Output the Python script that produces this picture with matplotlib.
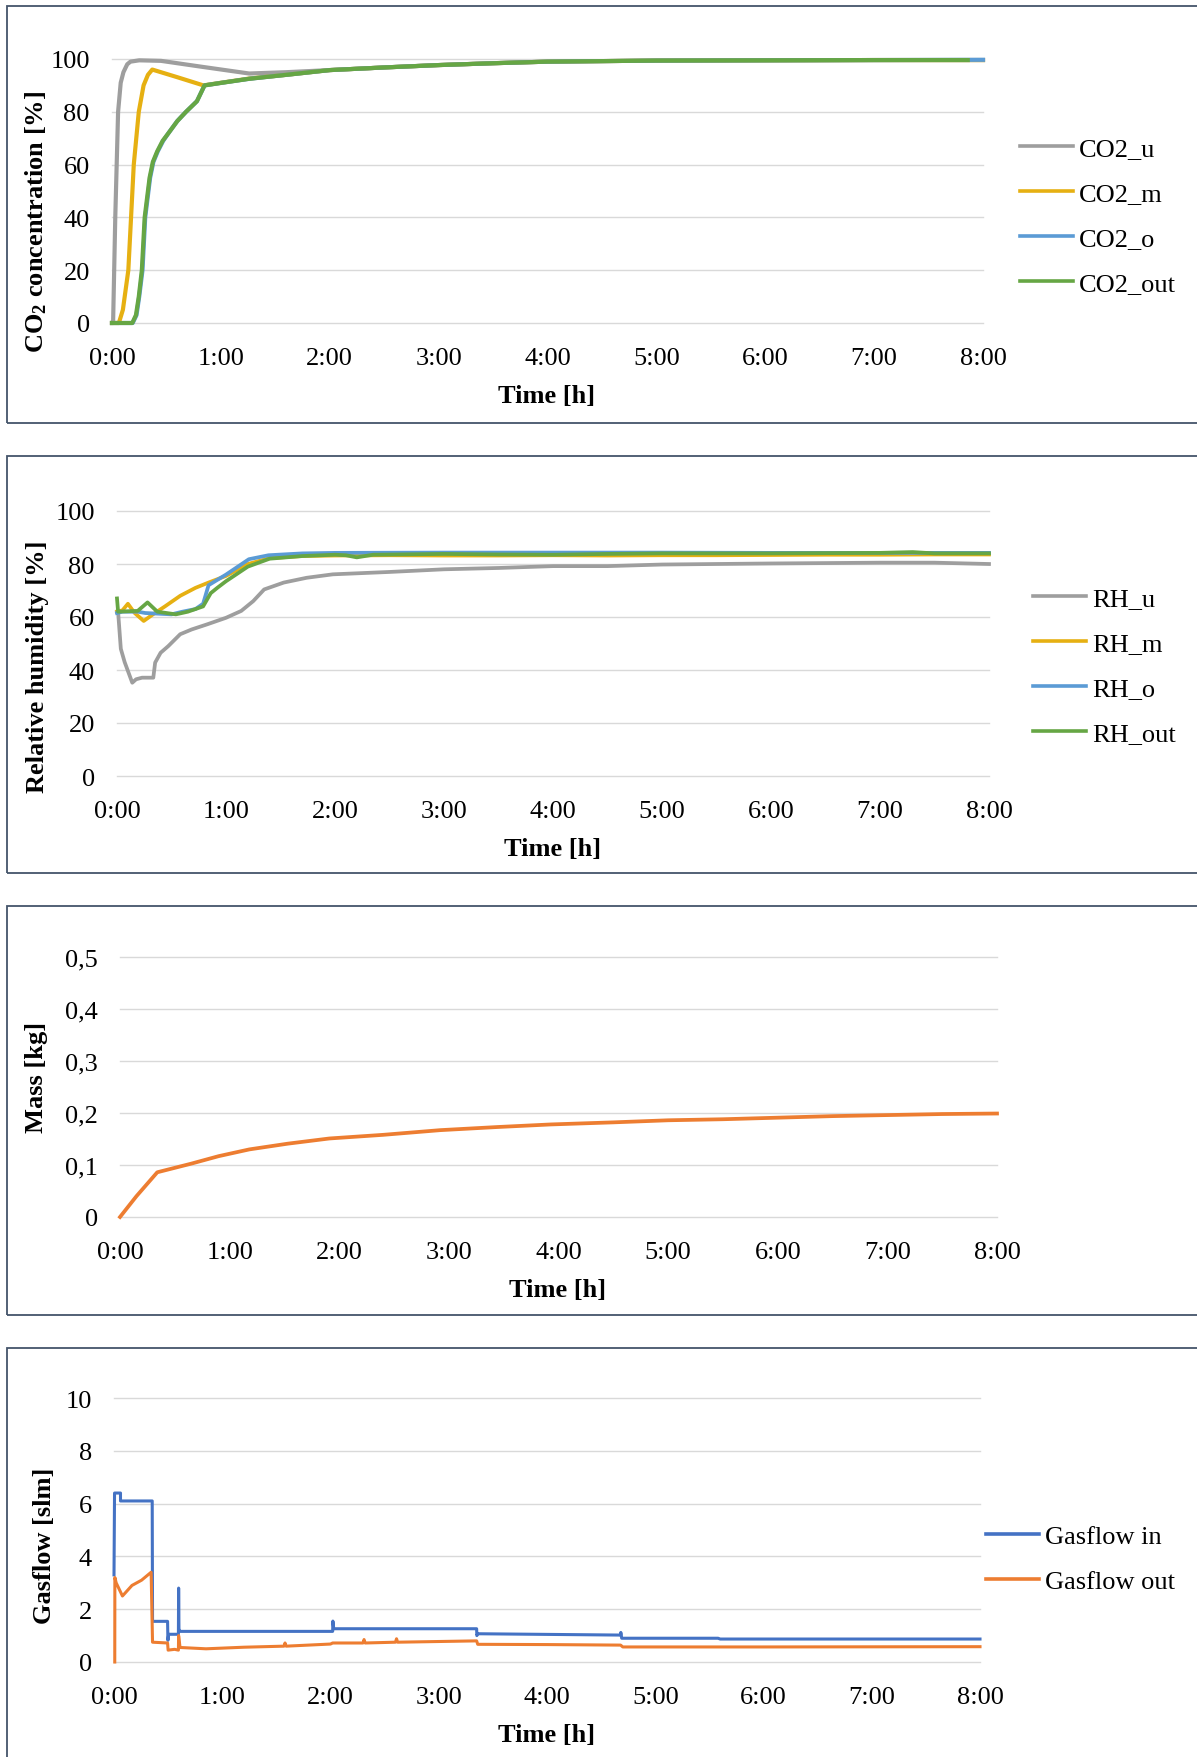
import matplotlib
matplotlib.use("Agg")
import matplotlib.pyplot as plt
from matplotlib.patches import Rectangle
from matplotlib.lines import Line2D

plt.rcParams['font.family'] = ['Liberation Serif', 'DejaVu Serif']
plt.rcParams['mathtext.default'] = 'regular'

W, H = 1197, 1758

# ---- data (time in hours) ----
hour_ticks = [0, 1, 2, 3, 4, 5, 6, 7, 8]
hour_labels = ['0:00', '1:00', '2:00', '3:00', '4:00', '5:00', '6:00', '7:00', '8:00']

t_co2_u = [0, 0.01, 0.03, 0.056, 0.08, 0.105, 0.14, 0.17, 0.25, 0.45, 0.8, 1.26, 1.6, 2.0, 2.5, 3.0, 3.5, 4.0, 4.5, 5.0, 6.0, 7.0, 8.0]
co2_u = [0, 0, 40, 80, 91, 95, 98, 99, 99.5, 99.3, 97.2, 94.5, 95.0, 95.8, 96.8, 97.7, 98.4, 99.0, 99.2, 99.4, 99.5, 99.6, 99.6]
t_co2_m = [0, 0.063, 0.1, 0.15, 0.2, 0.246, 0.29, 0.33, 0.37, 0.6, 0.84, 1.0, 1.26, 1.6, 2.0, 2.5, 3.0, 3.5, 4.0, 4.5, 5.0, 6.0, 7.0, 8.0]
co2_m = [0, 0, 5, 20, 60, 80, 90, 94, 96, 93.1, 90, 91, 92.6, 94, 95.8, 96.8, 97.7, 98.4, 99.0, 99.2, 99.4, 99.5, 99.6, 99.6]
t_co2_o = [0, 0.19, 0.225, 0.25, 0.28, 0.305, 0.35, 0.38, 0.42, 0.47, 0.52, 0.6, 0.68, 0.78, 0.85, 1.01, 1.26, 1.6, 2.0, 2.5, 3.0, 3.5, 4.0, 4.5, 5.0, 6.0, 7.0, 8.0]
co2_o = [0, 0, 3, 10, 20, 40, 55, 61, 65, 69, 72, 76.5, 80, 84, 90, 91, 92.5, 94, 95.8, 96.8, 97.7, 98.4, 99.0, 99.2, 99.4, 99.5, 99.6, 99.7]
t_co2_out = [0, 0.186, 0.22, 0.246, 0.274, 0.30, 0.345, 0.375, 0.415, 0.465, 0.52, 0.6, 0.68, 0.78, 0.85, 1.01, 1.26, 1.6, 2.0, 2.5, 3.0, 3.5, 4.0, 4.5, 5.0, 6.0, 7.0, 7.86]
co2_out = [0, 0, 3, 10, 20, 40, 55, 61, 65, 69, 72, 76.5, 80, 84, 90, 91, 92.5, 94, 95.8, 96.8, 97.7, 98.4, 99.0, 99.2, 99.4, 99.5, 99.6, 99.6]

t_rh_u = [0, 0.01, 0.035, 0.07, 0.14, 0.175, 0.23, 0.333, 0.35, 0.40, 0.47, 0.58, 0.685, 0.825, 1.0, 1.14, 1.25, 1.35, 1.53, 1.74, 1.98, 2.5, 3.0, 3.5, 4.0, 4.5, 5.0, 6.0, 7.0, 7.5, 8.0]
rh_u = [62, 62, 48, 43, 35.2, 36.5, 37.1, 37.1, 42.8, 46.5, 49, 53.5, 55.3, 57.2, 59.7, 62.3, 66, 70.4, 73, 74.8, 76.1, 77, 78, 78.5, 79.2, 79.2, 79.8, 80.2, 80.5, 80.5, 80]
t_rh_m = [0, 0.05, 0.1, 0.16, 0.245, 0.33, 0.44, 0.58, 0.72, 0.84, 1.0, 1.2, 1.4, 1.7, 2.0, 2.5, 3.0, 3.5, 4.0, 4.5, 5.0, 5.5, 6.0, 6.5, 7.0, 7.5, 8.0]
rh_m = [62, 62.5, 65, 61.6, 58.5, 61, 64, 68, 71, 73, 75.5, 80, 82.2, 83, 83.2, 83.3, 83.2, 83.2, 83.3, 83.2, 83.3, 83.3, 83.4, 83.5, 83.5, 83.6, 83.6]
t_rh_o = [0, 0.05, 0.19, 0.26, 0.5, 0.6, 0.72, 0.79, 0.84, 1.0, 1.21, 1.39, 1.7, 2.0, 3.0, 4.0, 5.0, 6.0, 7.0, 8.0]
rh_o = [61.5, 62, 62, 61.5, 61, 62, 63, 65, 72, 76, 81.8, 83.3, 84, 84.2, 84.3, 84.3, 84.3, 84.2, 84.2, 84.2]
t_rh_out = [0, 0.01, 0.19, 0.28, 0.37, 0.54, 0.65, 0.79, 0.86, 0.92, 1.0, 1.2, 1.4, 1.7, 2.0, 2.1, 2.2, 2.35, 3.0, 3.5, 4.0, 4.5, 5.0, 6.0, 7.0, 7.3, 7.5, 8.0]
rh_out = [67, 62, 62.3, 65.5, 62, 61, 62, 64, 69, 71, 73.5, 79, 82, 83, 83.5, 83.3, 82.5, 83.5, 83.8, 83.6, 83.5, 83.8, 84, 84, 84.2, 84.5, 84, 84]

t_mass = [0, 0.15, 0.34, 0.65, 0.9, 1.18, 1.53, 1.91, 2.4, 2.92, 3.44, 3.93, 4.5, 5.0, 5.5, 6.0, 6.5, 7.0, 7.5, 8.0]
mass = [0, 0.04, 0.086, 0.1026, 0.117, 0.13, 0.141, 0.151, 0.158, 0.167, 0.173, 0.178, 0.182, 0.186, 0.188, 0.191, 0.194, 0.196, 0.198, 0.199]
mass_ticks = [0, 0.1, 0.2, 0.3, 0.4, 0.5]
mass_labels = ['0', '0,1', '0,2', '0,3', '0,4', '0,5']

t_gas_in = [0, 0.005, 0.06, 0.06, 0.353, 0.356, 0.495, 0.498, 0.505, 0.595, 0.597, 0.6, 0.61, 2.02, 2.022, 2.03, 3.35, 3.352, 3.36, 4.68, 4.682, 4.69, 5.58, 5.6, 8.0]
gas_in = [3.3, 6.4, 6.4, 6.1, 6.1, 1.54, 1.54, 0.82, 1.05, 1.05, 2.8, 1.25, 1.16, 1.16, 1.55, 1.26, 1.26, 1.0, 1.07, 1.02, 1.12, 0.9, 0.9, 0.87, 0.87]
t_gas_out = [0.007, 0.008, 0.02, 0.078, 0.166, 0.255, 0.343, 0.356, 0.495, 0.5, 0.56, 0.595, 0.597, 0.61, 0.85, 1.2, 1.57, 1.58, 1.59, 2.0, 2.02, 2.3, 2.31, 2.32, 2.6, 2.61, 2.62, 3.35, 3.36, 4.0, 4.68, 4.7, 6.0, 8.0]
gas_out = [0, 3.2, 3.0, 2.5, 2.9, 3.1, 3.4, 0.75, 0.72, 0.45, 0.48, 0.45, 1.0, 0.55, 0.5, 0.56, 0.6, 0.72, 0.6, 0.68, 0.72, 0.72, 0.85, 0.72, 0.75, 0.88, 0.75, 0.8, 0.67, 0.66, 0.64, 0.57, 0.57, 0.58]

GRAY, GOLD, LBLUE, GREEN = '#9E9E9E', '#E6B012', '#5B9BD5', '#66A644'
BLUE, ORANGE = '#4472C4', '#ED7D31'
GRID = '#D9D9D9'
FS = 19


def fx(x):
    return x / W


def fy(y):
    return 1 - y / H


fig = plt.figure(figsize=(W / 100, H / 100), dpi=100)

# panel frames
for top, bot in [(7, 424), (457, 874), (907, 1316), (1349, 1790)]:
    fig.add_artist(Rectangle((fx(7), fy(bot)), 1.0, (bot - top) / H, transform=fig.transFigure,
                             fill=False, edgecolor='#44546A', lw=1.3))


def make_axes(x0, x1, ytop, ybot, yticks, ylabels=None):
    ax = fig.add_axes([fx(x0), fy(ybot), (x1 - x0) / W, (ybot - ytop) / H])
    for s in ax.spines.values():
        s.set_visible(False)
    for v in yticks:
        ax.axhline(v, color=GRID, lw=1.0, zorder=0, clip_on=False)
    ax.set_xlim(0, 8)
    ax.set_ylim(yticks[0], yticks[-1])
    ax.set_xticks(hour_ticks)
    ax.set_xticklabels(hour_labels)
    ax.set_yticks(yticks)
    if ylabels is not None:
        ax.set_yticklabels(ylabels)
    ax.tick_params(length=0, labelsize=FS)
    ax.tick_params(axis='x', pad=17)
    ax.tick_params(axis='y', pad=16)
    return ax


def side_label(text, x, y):
    fig.text(fx(x), fy(y), text, rotation=90, ha='center', va='center', fontsize=FS, fontweight='bold')


def time_label(x, y):
    fig.text(fx(x), fy(y), 'Time [h]', ha='center', va='center', fontsize=FS, fontweight='bold')


def add_legend(ax, names, colors, x, y, lw):
    handles = [Line2D([], [], color=c, lw=lw) for c in colors]
    fig.legend(handles, names, loc='center left', bbox_to_anchor=(fx(x), fy(y)), frameon=False,
               fontsize=FS, handlelength=2.0, handletextpad=0.25, labelspacing=0.82,
               borderpad=0, borderaxespad=0)


# ---- CO2 concentration ----
ax1 = make_axes(112, 983, 60, 324, [0, 20, 40, 60, 80, 100])
ax1.plot(t_co2_u, co2_u, color=GRAY, lw=3.0, clip_on=False)
ax1.plot(t_co2_m, co2_m, color=GOLD, lw=3.0, clip_on=False)
ax1.plot(t_co2_o, co2_o, color=LBLUE, lw=3.0, clip_on=False)
ax1.plot(t_co2_out, co2_out, color=GREEN, lw=3.0, clip_on=False)
side_label(r'CO$_2$ concentration [%]', 36, 222)
time_label(547, 396)
add_legend(ax1, ['CO2_u', 'CO2_m', 'CO2_o', 'CO2_out'], [GRAY, GOLD, LBLUE, GREEN], 1020, 217, 2.6)

# ---- Relative humidity ----
ax2 = make_axes(117, 989, 512, 777, [0, 20, 40, 60, 80, 100])
ax2.plot(t_rh_u, rh_u, color=GRAY, lw=2.7, clip_on=False)
ax2.plot(t_rh_m, rh_m, color=GOLD, lw=2.7, clip_on=False)
ax2.plot(t_rh_o, rh_o, color=LBLUE, lw=2.7, clip_on=False)
ax2.plot(t_rh_out, rh_out, color=GREEN, lw=2.7, clip_on=False)
side_label('Relative humidity [%]', 38, 667)
time_label(553, 850)
add_legend(ax2, ['RH_u', 'RH_m', 'RH_o', 'RH_out'], [GRAY, GOLD, LBLUE, GREEN], 1033, 667, 2.6)

# ---- Mass ----
ax3 = make_axes(120, 997, 958, 1218, mass_ticks, mass_labels)
ax3.plot(t_mass, mass, color=ORANGE, lw=2.7, clip_on=False)
side_label('Mass [kg]', 36, 1077)
time_label(558, 1291)

# ---- Gasflow ----
ax4 = make_axes(114, 980, 1399, 1663, [0, 2, 4, 6, 8, 10])
ax4.plot(t_gas_in, gas_in, color=BLUE, lw=2.2, clip_on=False)
ax4.plot(t_gas_out, gas_out, color=ORANGE, lw=2.2, clip_on=False)
side_label('Gasflow [slm]', 45, 1546)
time_label(547, 1736)
add_legend(ax4, ['Gasflow in', 'Gasflow out'], [BLUE, ORANGE], 986, 1560, 2.6)

fig.savefig('out.png', dpi=100)
